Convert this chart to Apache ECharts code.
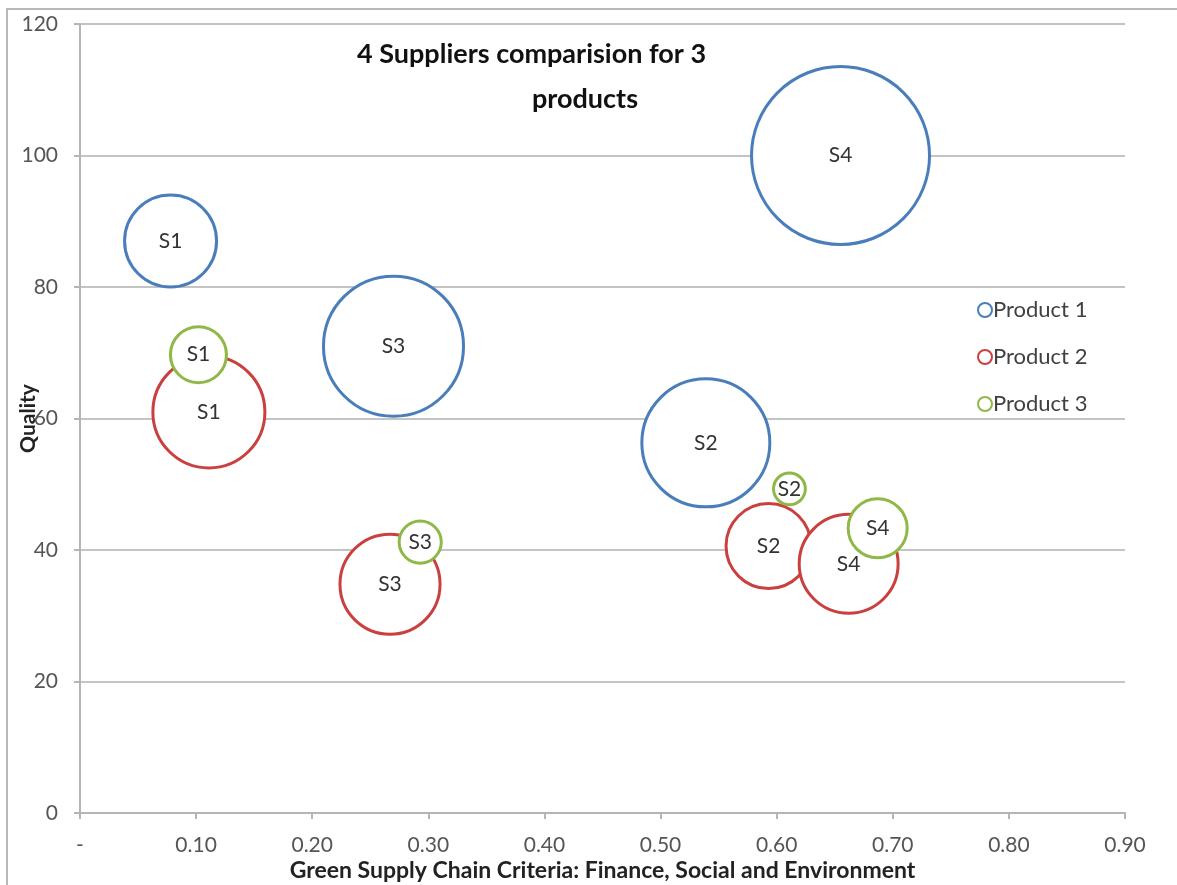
<!DOCTYPE html>
<html>
<head>
<meta charset="utf-8">
<script src="https://cdn.jsdelivr.net/npm/echarts@6/dist/echarts.min.js"></script>
<style>
  html, body { margin: 0; padding: 0; background: #fff; }
  #chart { width: 1177px; height: 885px; }
</style>
</head>
<body>
<div id="chart"></div>
<script>
var chartDom = document.getElementById("chart");
var chart = echarts.init(chartDom);

// bubble data: x, quality, bubble size
const suppliers = ["S1", "S2", "S3", "S4"];
const productNames = ["Product 1", "Product 2", "Product 3"];

const p1X = [0.078, 0.539, 0.270, 0.655];
const p1Y = [87.0, 56.3, 71.0, 100.0];
const p1Size = [26.7, 51.7, 61.9, 100];

const p2X = [0.111, 0.593, 0.267, 0.662];
const p2Y = [61.0, 40.6, 34.8, 37.9];
const p2Size = [39.6, 22.8, 31.6, 30.9];

const p3X = [0.102, 0.611, 0.293, 0.687];
const p3Y = [69.7, 49.3, 41.2, 43.3];
const p3Size = [9.9, 3.2, 5.6, 11.0];

const colors = ["#4a7ebb", "#c9403f", "#8fb848"];
const font = "Lato, 'Open Sans', sans-serif";

function makeData(xs, ys, sizes) {
  var out = [];
  for (let i = 0; i < xs.length; i++) {
    out.push([xs[i], ys[i], sizes[i], suppliers[i]]);
  }
  return out;
}

function makeSeries(name, data, color) {
  return {
    name: name,
    type: "scatter",
    data: data,
    symbolSize: function (d) {
      return Math.sqrt(d[2]) * 17.8;
    },
    itemStyle: {
      color: "#fff",
      borderColor: color,
      borderWidth: 3,
      opacity: 1,
    },
    label: {
      show: true,
      position: "inside",
      formatter: function (p) {
        return p.data[3];
      },
      color: "#333",
      fontSize: 21,
      fontFamily: font,
    },
  };
}

var series = [
  makeSeries(productNames[0], makeData(p1X, p1Y, p1Size), colors[0]),
  makeSeries(productNames[1], makeData(p2X, p2Y, p2Size), colors[1]),
  makeSeries(productNames[2], makeData(p3X, p3Y, p3Size), colors[2]),
];

var option = {
  animation: false,
  graphic: [
    {
      type: "rect",
      shape: { x: 7, y: 9, width: 1300, height: 1000 },
      style: { fill: null, stroke: "#b8b8b8", lineWidth: 2 },
      silent: true,
    },
  ],
  title: [
    {
      text: "4 Suppliers comparision for 3",
      left: 352,
      top: 36,
      textStyle: { fontSize: 27, fontWeight: "bold", color: "#111", fontFamily: font },
    },
    {
      text: "products",
      left: 527,
      top: 81,
      textStyle: { fontSize: 27, fontWeight: "bold", color: "#111", fontFamily: font },
    },
  ],
  legend: {
    data: productNames,
    orient: "vertical",
    left: 972,
    top: 294,
    itemGap: 25,
    itemWidth: 14,
    itemHeight: 14,
    icon: "circle",
    textStyle: { fontSize: 22, color: "#404040", fontFamily: font, padding: [0, 0, 0, -4] },
  },
  grid: {
    left: 80,
    right: 52,
    top: 24,
    bottom: 72,
    outerBoundsMode: "none",
  },
  xAxis: {
    type: "value",
    min: 0,
    max: 0.9,
    interval: 0.1,
    name: "Green Supply Chain Criteria: Finance, Social and Environment",
    nameLocation: "middle",
    nameGap: 46,
    nameMoveOverlap: false,
    nameTextStyle: { fontSize: 23, fontWeight: "bold", color: "#222", fontFamily: font },
    axisLine: { show: true, lineStyle: { color: "#b5b5b5", width: 2 } },
    axisTick: { show: true, length: 6, lineStyle: { color: "#b5b5b5", width: 2 } },
    axisLabel: {
      margin: 22,
      fontSize: 21,
      color: "#555",
      fontFamily: font,
      formatter: function (v) {
        return v === 0 ? "-" : v.toFixed(2);
      },
    },
    splitLine: { show: false },
  },
  yAxis: {
    type: "value",
    min: 0,
    max: 120,
    interval: 20,
    name: "Quality",
    nameLocation: "middle",
    nameGap: 41,
    nameMoveOverlap: false,
    nameTextStyle: { fontSize: 21, fontWeight: "bold", color: "#222", fontFamily: font },
    axisLine: { show: true, lineStyle: { color: "#b5b5b5", width: 2 } },
    axisTick: { show: true, length: 6, lineStyle: { color: "#b5b5b5", width: 2 } },
    axisLabel: { margin: 22, fontSize: 21, color: "#555", fontFamily: font },
    splitLine: { show: true, lineStyle: { color: "#c4c4c4", width: 2 } },
  },
  series: series,
};

chart.setOption(option);

window.addEventListener("resize", function () {
  chart.resize();
});
</script>
</body>
</html>
